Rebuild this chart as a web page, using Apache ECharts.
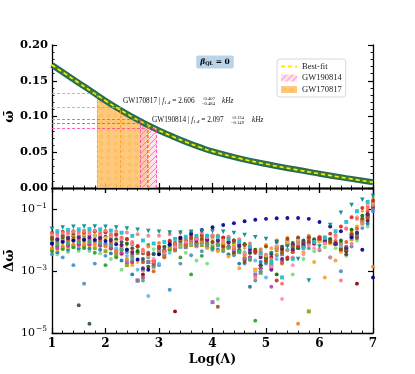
<!DOCTYPE html>
<html>
<head>
<meta charset="utf-8">
<script src="https://cdn.jsdelivr.net/npm/echarts@6/dist/echarts.min.js"></script>
<style>
html, body { margin: 0; padding: 0; background: #fff; }
#main { width: 415px; height: 374px; }
</style>
</head>
<body>
<div id="main"></div>
<script>
"use strict";

// ---- top panel: omega-bar vs Log(Lambda) ----
var lambdaCurve = [1.0, 1.25, 1.5, 1.75, 2.0, 2.25, 2.5, 2.75, 3.0, 3.25, 3.5, 3.75, 4.0, 4.5, 5.0, 5.5, 6.0, 6.5, 7.0];
var omegaCurve = [0.172, 0.1595, 0.147, 0.1345, 0.122, 0.1105, 0.0995, 0.0895, 0.0805, 0.0722, 0.0645, 0.0575, 0.0512, 0.0415, 0.0335, 0.0265, 0.020, 0.0138, 0.008];

// shaded bands (upper edge follows the curve)
var gw170817X = [1.84, 2.0, 2.25, 2.5, 2.79];
var gw170817Top = [0.132, 0.123, 0.112, 0.101, 0.090];
var gw190814X = [2.645, 2.8, 2.957];
var gw190814Top = [0.095, 0.089, 0.083];

// lower / median / upper bounds: [Log(Lambda), omega]
var gw170817BoundX = [1.84, 2.28, 2.79];
var gw170817BoundY = [0.133, 0.1134, 0.0911];
var gw190814BoundX = [2.645, 2.78, 2.957];
var gw190814BoundY = [0.0955, 0.0908, 0.0833];

// ---- bottom panel: log10 of the residuals ----
var lamA = [1.0, 1.2, 1.4, 1.6, 1.8, 2.0, 2.2, 2.4, 2.6, 2.8, 3.0, 3.2, 3.4, 3.6, 3.8, 4.0, 4.2, 4.4, 4.6, 4.8, 5.0, 5.2, 5.4, 5.6, 5.8, 6.0, 6.2, 6.4, 6.6, 6.8, 7.0];
var lamB = [1.1, 1.3, 1.5, 1.7, 1.9, 2.1, 2.3, 2.5, 2.7, 2.9, 3.1, 3.3, 3.5, 3.7, 3.9, 4.1, 4.3, 4.5, 4.7, 4.9, 5.1, 5.3, 5.5, 5.7, 5.9, 6.1, 6.3, 6.5, 6.7, 6.9];

var resTeal = [-1.62,-1.58,-1.56,-1.55,-1.55,-1.56,-1.58,-1.61,-1.65,-1.69,-1.72,-1.74,-1.74,-1.72,-1.70,-1.70,-1.72,-1.76,-1.82,-1.90,-1.95,-2.05,-2.20,-2.60,-3.30,-2.20,-1.50,-1.10,-0.85,-0.68,-0.55];
var resNavy = [-2.10,-2.05,-2.00,-1.98,-1.98,-2.02,-2.12,-2.30,-2.62,-2.95,-2.45,-2.12,-1.92,-1.78,-1.66,-1.57,-1.50,-1.44,-1.38,-1.33,-1.30,-1.28,-1.27,-1.27,-1.30,-1.40,-1.55,-1.70,-1.90,-2.30,-3.20];
var resBrown = [-1.90,-1.84,-1.78,-1.74,-1.70,-1.72,-1.80,-1.95,-2.20,-2.45,-2.25,-2.05,-1.95,-1.92,-1.95,-2.05,-2.20,-2.40,-2.70,-2.40,-2.20,-2.05,-1.95,-1.90,-1.90,-1.95,-2.05,-2.30,-1.80,-1.30,-0.90];
var resOrange = [-2.25,-2.18,-2.12,-2.10,-2.12,-2.20,-2.35,-2.60,-2.40,-2.20,-2.08,-2.00,-1.95,-1.95,-1.98,-2.05,-2.12,-2.25,-2.50,-2.35,-2.15,-2.00,-1.92,-4.70,-1.85,-1.88,-2.00,-2.30,-1.75,-1.30,-2.85];
var resGreen = [-2.35,-2.28,-2.22,-2.25,-2.40,-2.80,-2.55,-2.30,-2.20,-2.15,-2.20,-2.30,-2.55,-3.10,-2.50,-2.25,-2.12,-2.08,-2.12,-4.60,-2.70,-2.25,-2.05,-1.98,-1.92,-1.92,-2.00,-2.25,-1.85,-1.35,-0.88];
var resSalmon = [-1.80,-1.76,-1.72,-1.70,-1.68,-1.68,-1.70,-1.74,-1.80,-1.85,-1.85,-1.80,-1.75,-1.72,-1.75,-1.85,-2.00,-2.20,-2.45,-3.20,-2.45,-2.25,-2.15,-2.10,-2.15,-2.28,-2.55,-3.30,-2.10,-1.45,-0.85];
var resPurple = [-2.10,-2.02,-1.98,-1.98,-2.02,-2.15,-2.35,-2.70,-3.30,-2.70,-2.35,-2.18,-2.08,-2.04,-2.05,-4.00,-2.15,-2.30,-2.60,-3.10,-2.50,-2.20,-2.05,-1.96,-1.92,-1.92,-1.98,-2.10,-1.82,-1.35,-0.92];
var resOlive = [-2.30,-2.25,-2.20,-2.20,-2.25,-2.35,-2.50,-2.80,-3.30,-2.70,-2.40,-2.28,-2.20,-2.15,-2.15,-2.20,-2.28,-2.40,-2.60,-2.95,-2.60,-2.32,-2.15,-2.05,-4.30,-2.00,-2.08,-2.30,-1.95,-1.45,-0.95];
var resGold = [-2.00,-1.95,-1.92,-1.90,-1.90,-1.94,-2.02,-2.15,-2.32,-2.45,-2.38,-2.25,-2.14,-2.08,-2.05,-2.05,-2.08,-2.14,-2.25,-2.40,-2.55,-2.45,-2.30,-2.18,-2.10,-2.05,-2.05,-2.12,-1.65,-1.05,-0.60];
var resSteel = [-2.45,-2.55,-2.80,-3.40,-2.75,-2.50,-2.40,-2.38,-2.42,-2.55,-2.80,-3.60,-2.75,-2.48,-2.35,-2.30,-2.35,-2.48,-2.75,-3.30,-2.75,-2.48,-2.32,-2.25,-2.25,-2.32,-2.55,-3.00,-2.20,-1.60,-1.05];
var resRed = [-1.75,-1.72,-1.70,-1.69,-1.70,-1.74,-1.82,-1.96,-2.18,-2.40,-2.20,-2.02,-1.90,-1.84,-1.82,-1.84,-1.90,-2.00,-2.15,-2.35,-2.65,-3.30,-2.55,-2.20,-2.02,-1.90,-1.78,-1.55,-1.25,-0.95,-0.70];
var resSky = [-2.05,-2.00,-1.98,-1.98,-2.02,-2.10,-2.25,-2.50,-2.95,-3.80,-2.75,-2.40,-2.22,-2.12,-2.08,-2.08,-2.12,-2.22,-2.38,-2.65,-3.20,-2.60,-2.30,-2.15,-2.06,-2.02,-2.05,-2.20,-1.85,-1.30,-0.85];
var resDarkGreen = [-1.95,-1.90,-1.86,-1.84,-1.84,-1.88,-1.96,-2.10,-2.35,-2.85,-2.45,-2.15,-2.00,-1.92,-1.88,-1.88,-1.92,-2.00,-2.12,-2.30,-2.55,-3.10,-2.60,-2.25,-2.08,-1.98,-1.95,-2.00,-1.65,-1.20,-0.78];
var resTan = [-1.88,-1.84,-1.82,-1.82,-1.85,-1.92,-2.05,-2.28,-2.70,-2.50,-2.20,-2.05,-1.96,-1.92,-1.92,-1.96,-2.04,-2.18,-2.42,-2.95,-2.50,-2.20,-2.05,-1.98,-1.96,-2.00,-2.10,-2.38,-1.85,-1.32,-0.82];

var resSlate = [-1.98,-1.93,-4.10,-4.70,-1.90,-1.95,-2.05,-2.25,-2.60,-2.45,-2.20,-2.08,-2.00,-1.96,-1.96,-2.00,-2.08,-2.20,-2.40,-2.80,-2.45,-2.20,-2.08,-2.00,-1.96,-2.00,-2.12,-2.45,-1.75,-1.15];
var resDarkRed = [-2.20,-2.15,-2.12,-2.12,-2.16,-2.25,-2.42,-2.70,-3.10,-2.65,-2.35,-4.30,-2.12,-2.08,-2.08,-2.12,-2.20,-2.32,-2.55,-2.90,-2.55,-2.30,-2.15,-2.08,-2.04,-2.04,-2.12,-2.35,-3.40,-1.35];
var resCyan = [-1.70,-1.66,-1.64,-1.63,-1.64,-1.68,-1.75,-1.85,-2.00,-2.10,-2.05,-1.95,-1.88,-1.85,-1.85,-1.88,-1.95,-2.05,-2.20,-2.40,-2.70,-3.20,-2.60,-2.25,-2.05,-1.90,-1.70,-1.40,-1.05,-0.75];
var resBlue = [-2.38,-2.30,-2.26,-2.26,-2.30,-2.42,-2.65,-3.10,-2.70,-2.42,-2.30,-2.22,-2.18,-2.18,-2.22,-2.30,-2.45,-2.75,-3.50,-2.70,-2.40,-2.25,-2.12,-2.05,-2.00,-2.00,-2.10,-2.32,-1.92,-1.45];
var resPink = [-1.85,-1.80,-1.78,-1.78,-1.80,-1.86,-1.95,-2.10,-2.35,-2.60,-2.40,-2.20,-2.05,-1.95,-1.90,-1.90,-1.95,-2.05,-2.20,-2.45,-2.85,-3.90,-2.80,-2.45,-2.25,-2.10,-1.90,-1.60,-1.25,-0.85];
var resLightGreen = [-2.45,-2.38,-2.34,-2.34,-2.42,-2.60,-2.95,-2.65,-2.40,-2.28,-2.24,-2.28,-2.40,-2.65,-2.75,-3.90,-2.45,-2.30,-2.25,-2.28,-2.40,-2.65,-3.10,-2.60,-2.35,-2.22,-2.25,-2.50,-2.00,-1.55];
var resGrey = [-2.08,-2.04,-2.02,-2.02,-2.06,-2.14,-2.28,-2.50,-2.95,-2.85,-2.50,-2.32,-2.22,-2.16,-2.14,-2.16,-2.24,-2.38,-2.60,-3.05,-2.80,-2.45,-2.28,-2.16,-2.10,-2.08,-2.12,-2.28,-1.85,-1.25];
var resSienna = [-1.95,-1.90,-1.85,-1.82,-1.82,-1.86,-1.95,-2.12,-2.42,-2.75,-2.32,-2.10,-1.98,-1.93,-1.93,-4.15,-2.05,-2.18,-2.40,-2.80,-2.85,-2.40,-2.18,-2.06,-2.00,-2.00,-2.08,-2.30,-1.90,-1.25];
var resAmber = [-2.30,-2.22,-2.18,-2.16,-2.18,-2.28,-2.45,-2.80,-3.20,-2.65,-2.38,-2.25,-2.20,-2.20,-2.25,-2.35,-2.52,-2.90,-2.65,-2.38,-2.25,-2.20,-2.24,-2.38,-2.70,-3.20,-2.65,-2.20,-1.55,-0.90];
var resViolet = [-1.95,-1.92,-1.90,-1.90,-1.93,-2.00,-2.15,-2.40,-2.90,-2.70,-2.35,-2.15,-2.05,-2.00,-1.98,-2.00,-2.05,-2.15,-2.30,-2.55,-2.95,-2.60,-2.30,-2.15,-2.08,-2.05,-2.10,-2.25,-1.75,-1.15];
var resCoral = [-1.78,-1.74,-1.72,-1.72,-1.74,-1.80,-1.90,-2.05,-2.30,-2.70,-2.35,-2.10,-1.96,-1.88,-1.84,-1.84,-1.88,-1.96,-2.10,-2.30,-2.60,-3.40,-2.55,-2.22,-2.04,-1.92,-1.82,-1.62,-1.30,-0.95];
var resSeaGreen = [-2.15,-2.10,-2.06,-2.05,-2.08,-2.16,-2.32,-2.60,-3.30,-2.75,-2.42,-2.25,-2.15,-2.10,-2.10,-2.14,-2.22,-2.36,-2.60,-3.00,-2.70,-2.40,-2.22,-2.12,-2.06,-2.04,-2.08,-2.22,-1.80,-1.22];
var resDeepOrange = [-2.00,-1.96,-1.94,-1.94,-1.97,-2.04,-2.16,-2.36,-2.70,-3.00,-2.55,-2.28,-2.14,-2.06,-2.02,-2.02,-2.06,-2.14,-2.28,-2.50,-2.90,-2.75,-2.38,-2.20,-2.10,-2.05,-2.02,-2.05,-1.62,-1.05];
var resMagenta = [-2.25,-2.18,-2.14,-2.13,-2.16,-2.24,-2.40,-2.70,-3.20,-2.80,-2.45,-2.28,-2.18,-2.13,-2.12,-2.15,-2.22,-2.35,-2.55,-2.90,-3.50,-2.70,-2.38,-2.20,-2.10,-2.06,-2.08,-2.20,-1.78,-1.18];

// tick labels
var xTicks = [1, 2, 3, 4, 5, 6, 7];
var logTicks = [-5, -3, -1];

// styling of the residual series (drawn in this order)
var residualSets = [
  { v: resSteel, x: lamA, c: '#4a90c2', s: 'circle' },
  { v: resLightGreen, x: lamB, c: '#7fdc7f', s: 'circle' },
  { v: resOlive, x: lamA, c: '#9a9a10', s: 'rect' },
  { v: resBlue, x: lamB, c: '#1f77b4', s: 'circle' },
  { v: resAmber, x: lamB, c: '#ffa022', s: 'circle' },
  { v: resGreen, x: lamA, c: '#2ca02c', s: 'circle' },
  { v: resSky, x: lamA, c: '#5fb8e8', s: 'circle' },
  { v: resPurple, x: lamA, c: '#9467bd', s: 'rect' },
  { v: resDarkRed, x: lamB, c: '#8b0000', s: 'circle' },
  { v: resMagenta, x: lamB, c: '#c040c0', s: 'circle' },
  { v: resGrey, x: lamB, c: '#7f7f7f', s: 'rect' },
  { v: resSeaGreen, x: lamB, c: '#3cb371', s: 'circle' },
  { v: resOrange, x: lamA, c: '#ff7f0e', s: 'circle' },
  { v: resGold, x: lamA, c: '#d4a017', s: 'diamond' },
  { v: resDeepOrange, x: lamB, c: '#e8590c', s: 'circle' },
  { v: resSienna, x: lamB, c: '#a0522d', s: 'circle' },
  { v: resSlate, x: lamB, c: '#2f4f4f', s: 'circle' },
  { v: resDarkGreen, x: lamA, c: '#0b6e0b', s: 'circle' },
  { v: resTan, x: lamA, c: '#ffb347', s: 'circle' },
  { v: resViolet, x: lamB, c: '#5b1a8e', s: 'circle' },
  { v: resBrown, x: lamA, c: '#8b4513', s: 'circle' },
  { v: resRed, x: lamA, c: '#d62728', s: 'circle' },
  { v: resPink, x: lamB, c: '#ff8fab', s: 'circle' },
  { v: resCoral, x: lamB, c: '#ff6f61', s: 'circle' },
  { v: resSalmon, x: lamA, c: '#f08080', s: 'circle' },
  { v: resCyan, x: lamB, c: '#17becf', s: 'rect' },
  { v: resNavy, x: lamA, c: '#00008b', s: 'circle' },
  { v: resTeal, x: lamA, c: '#008b8b', s: 'triangle', r: 180 }
];

function zip(xs, ys) {
  var out = [];
  for (var i = 0; i < xs.length; i++) out.push([xs[i], ys[i]]);
  return out;
}

// fill patterns
function dotPattern() {
  var c = document.createElement('canvas');
  c.width = 7; c.height = 7;
  var g = c.getContext('2d');
  g.fillStyle = 'rgba(255,192,100,0.85)';
  g.fillRect(0, 0, 7, 7);
  g.strokeStyle = 'rgba(245,160,60,0.7)';
  g.lineWidth = 0.6;
  g.beginPath();
  g.arc(3.5, 3.5, 1.3, 0, 2 * Math.PI);
  g.stroke();
  return { image: c, repeat: 'repeat' };
}
function hatchPattern() {
  var c = document.createElement('canvas');
  c.width = 6; c.height = 6;
  var g = c.getContext('2d');
  g.fillStyle = 'rgba(255,200,222,0.55)';
  g.fillRect(0, 0, 6, 6);
  g.strokeStyle = '#ff62ad';
  g.lineWidth = 0.8;
  g.beginPath();
  g.moveTo(0, 6); g.lineTo(6, 0);
  g.moveTo(-1, 1); g.lineTo(1, -1);
  g.moveTo(5, 7); g.lineTo(7, 5);
  g.stroke();
  return { image: c, repeat: 'repeat' };
}
var orangeFill = dotPattern();
var pinkFill = hatchPattern();

function boundLines(xs, ys) {
  var out = [];
  for (var i = 0; i < xs.length; i++) {
    out.push([{ coord: [1, ys[i]] }, { coord: [xs[i], ys[i]] }]);
    out.push([{ coord: [xs[i], 0] }, { coord: [xs[i], ys[i]] }]);
  }
  return out;
}

var serifBold = { fontFamily: 'DejaVu Serif', fontWeight: 'bold', color: '#000' };
var axLine = { show: true, lineStyle: { color: '#000', width: 1.3 } };
var majorTick = { inside: true, length: 5, lineStyle: { color: '#000', width: 1.2 } };
var minorTick = { show: true, splitNumber: 5, length: 2.5, lineStyle: { color: '#000', width: 0.9 } };

function xAxisOf(grid, pos, labels) {
  return {
    type: 'value', gridIndex: grid, position: pos, min: 1, max: 7, interval: 1,
    axisLine: axLine, axisTick: majorTick, minorTick: minorTick,
    splitLine: { show: false },
    axisLabel: labels ? Object.assign({ fontSize: 12, margin: 5,
      formatter: function (v) { return xTicks.indexOf(v) >= 0 ? String(v) : ''; } }, serifBold) : { show: false },
    name: labels ? 'Log(Λ)' : '', nameLocation: 'middle', nameGap: 20,
    nameTextStyle: Object.assign({ fontSize: 12.5 }, serifBold)
  };
}

var option = {
  animation: false,
  backgroundColor: '#fff',
  grid: [
    { left: 52, top: 45, width: 321, height: 143, containLabel: false, outerBoundsMode: 'none' },
    { left: 52, top: 188, width: 321, height: 145, containLabel: false, outerBoundsMode: 'none' }
  ],
  xAxis: [
    xAxisOf(0, 'bottom', false),
    xAxisOf(0, 'top', false),
    xAxisOf(1, 'bottom', true),
    xAxisOf(1, 'top', false)
  ],
  yAxis: [
    {
      type: 'value', gridIndex: 0, position: 'left', min: 0, max: 0.2, interval: 0.05,
      axisLine: axLine, axisTick: majorTick, minorTick: minorTick,
      splitLine: { show: false },
      axisLabel: Object.assign({ fontSize: 11.5, margin: 4, formatter: function (v) { return v.toFixed(2); } }, serifBold),
      name: 'ω\u0304', nameLocation: 'middle', nameGap: 36, nameRotate: 90, nameMoveOverlap: false,
      nameTextStyle: Object.assign({ fontSize: 13 }, serifBold)
    },
    {
      type: 'value', gridIndex: 0, position: 'right', min: 0, max: 0.2, interval: 0.05,
      axisLine: axLine, axisTick: majorTick, minorTick: minorTick,
      splitLine: { show: false }, axisLabel: { show: false }
    },
    {
      type: 'value', gridIndex: 1, position: 'left', min: -5, max: -0.3, interval: 2,
      axisLine: axLine, axisTick: majorTick,
      splitLine: { show: false },
      axisLabel: {
        margin: 5, showMaxLabel: false,
        formatter: function (v) {
          return logTicks.indexOf(v) >= 0 ? '{b|10}{s|\u2212' + (-v) + '}' : '';
        },
        rich: {
          b: { fontFamily: 'DejaVu Serif', fontSize: 11, color: '#000' },
          s: { fontFamily: 'DejaVu Serif', fontSize: 7.5, color: '#000', padding: [0, 0, 7, 1] }
        }
      },
      name: '\u0394ω\u0304', nameLocation: 'middle', nameGap: 36, nameRotate: 90, nameMoveOverlap: false,
      nameTextStyle: Object.assign({ fontSize: 13 }, serifBold)
    },
    {
      type: 'value', gridIndex: 1, position: 'right', min: -5, max: -0.3, interval: 2,
      axisLine: axLine, axisTick: majorTick,
      splitLine: { show: false }, axisLabel: { show: false, showMaxLabel: false }
    }
  ],
  legend: {
    left: 277, top: 59, orient: 'vertical',
    padding: [3, 4, 3, 3], itemGap: 2.5, itemWidth: 16, itemHeight: 7,
    backgroundColor: '#fff', borderColor: '#d8d8d8', borderWidth: 1, borderRadius: 3,
    textStyle: { fontFamily: 'Liberation Serif', fontSize: 8.5, color: '#222', lineHeight: 9 },
    data: [
      { name: 'Best-fit', itemStyle: { opacity: 0 } },
      { name: 'GW190814', icon: 'rect', itemStyle: { color: pinkFill, borderWidth: 0 } },
      { name: 'GW170817', icon: 'rect', itemStyle: { color: orangeFill, borderWidth: 0 } }
    ]
  },
  graphic: [
    {
      type: 'text', x: 215, y: 62, z: 100,
      style: {
        text: '{b|β}{s|QL}{n| = 0}', align: 'center', verticalAlign: 'middle',
        backgroundColor: '#b8d4ea', padding: [2, 4, 2, 4], borderRadius: 2,
        rich: {
          b: { fontFamily: 'DejaVu Serif', fontStyle: 'italic', fontWeight: 'bold', fontSize: 7.5, fill: '#000' },
          s: { fontFamily: 'DejaVu Serif', fontWeight: 'bold', fontSize: 5, fill: '#000', padding: [4, 0, 0, 0] },
          n: { fontFamily: 'DejaVu Serif', fontWeight: 'bold', fontSize: 7.5, fill: '#000' }
        }
      }
    },
    {
      type: 'text', x: 123, y: 101, z: 100,
      style: {
        text: '{a|GW170817 | }{i|f}{s|1.4}{a| = 2.606}', verticalAlign: 'middle',
        rich: {
          a: { fontFamily: 'Liberation Serif', fontSize: 7.3, fill: '#111' },
          i: { fontFamily: 'Liberation Serif', fontStyle: 'italic', fontSize: 7.3, fill: '#111' },
          s: { fontFamily: 'Liberation Serif', fontStyle: 'italic', fontSize: 5, fill: '#111', padding: [3, 0, 0, 0] }
        }
      }
    },
    {
      type: 'text', x: 202, y: 101, z: 100,
      style: { text: '+0.407\n\u22120.484', verticalAlign: 'middle', fontFamily: 'Liberation Serif', fontSize: 4.6, lineHeight: 4.8, fill: '#111' }
    },
    {
      type: 'text', x: 222, y: 101, z: 100,
      style: { text: 'kHz', verticalAlign: 'middle', fontFamily: 'Liberation Serif', fontStyle: 'italic', fontSize: 7.3, fill: '#111' }
    },
    {
      type: 'text', x: 152, y: 120, z: 100,
      style: {
        text: '{a|GW190814 | }{i|f}{s|1.4}{a| = 2.097}', verticalAlign: 'middle',
        rich: {
          a: { fontFamily: 'Liberation Serif', fontSize: 7.3, fill: '#111' },
          i: { fontFamily: 'Liberation Serif', fontStyle: 'italic', fontSize: 7.3, fill: '#111' },
          s: { fontFamily: 'Liberation Serif', fontStyle: 'italic', fontSize: 5, fill: '#111', padding: [3, 0, 0, 0] }
        }
      }
    },
    {
      type: 'text', x: 231, y: 120, z: 100,
      style: { text: '+0.134\n\u22120.149', verticalAlign: 'middle', fontFamily: 'Liberation Serif', fontSize: 4.6, lineHeight: 4.8, fill: '#111' }
    },
    {
      type: 'text', x: 252, y: 120, z: 100,
      style: { text: 'kHz', verticalAlign: 'middle', fontFamily: 'Liberation Serif', fontStyle: 'italic', fontSize: 7.3, fill: '#111' }
    }
  ],
  series: []
};

// shaded regions with their dashed bound lines
option.series.push({
  name: 'GW170817', type: 'line', xAxisIndex: 0, yAxisIndex: 0, z: 1,
  data: zip(gw170817X, gw170817Top), symbol: 'none', smooth: false,
  lineStyle: { width: 0 }, itemStyle: { color: orangeFill },
  areaStyle: { color: orangeFill, opacity: 1 },
  markLine: {
    silent: true, symbol: 'none', label: { show: false },
    lineStyle: { color: '#ff9a1a', type: [3, 2], width: 0.8 },
    data: boundLines(gw170817BoundX, gw170817BoundY)
  }
});
option.series.push({
  name: 'GW190814', type: 'line', xAxisIndex: 0, yAxisIndex: 0, z: 2,
  data: zip(gw190814X, gw190814Top), symbol: 'none', smooth: false,
  lineStyle: { width: 0 }, itemStyle: { color: pinkFill },
  areaStyle: { color: pinkFill, opacity: 1 },
  markLine: {
    silent: true, symbol: 'none', label: { show: false },
    lineStyle: { color: '#ff3fa4', type: [3, 2], width: 0.8 },
    data: boundLines(gw190814BoundX, gw190814BoundY)
  }
});

// band of model curves + best fit
option.series.push({
  name: 'models-edge', type: 'line', xAxisIndex: 0, yAxisIndex: 0, z: 3,
  data: zip(lambdaCurve, omegaCurve), symbol: 'none', smooth: true,
  lineStyle: { color: '#23695e', width: 6 }
});
option.series.push({
  name: 'models', type: 'line', xAxisIndex: 0, yAxisIndex: 0, z: 3,
  data: zip(lambdaCurve, omegaCurve), symbol: 'none', smooth: true,
  lineStyle: { color: '#3f7f2a', width: 3.2 }
});
option.series.push({
  name: 'Best-fit', type: 'line', xAxisIndex: 0, yAxisIndex: 0, z: 4,
  data: zip(lambdaCurve, omegaCurve), symbol: 'none', smooth: true,
  itemStyle: { color: '#ffee00' },
  lineStyle: { color: '#ffee00', width: 1.6, type: [4, 3] }
});

// residual scatter
residualSets.forEach(function (r, k) {
  option.series.push({
    name: 'res' + k, type: 'scatter', xAxisIndex: 2, yAxisIndex: 2,
    data: zip(r.x, r.v), symbol: r.s, symbolSize: r.s === 'triangle' ? 4.5 : 3.9,
    symbolRotate: r.r || 0,
    itemStyle: { color: r.c, opacity: 0.92 }
  });
});

var chart = echarts.init(document.getElementById('main'));
chart.setOption(option);
</script>
</body>
</html>
